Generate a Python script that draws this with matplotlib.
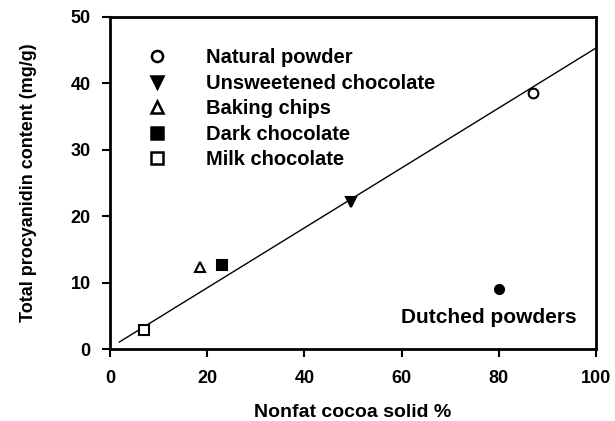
import matplotlib
matplotlib.use("Agg")
import matplotlib.pyplot as plt
from matplotlib.lines import Line2D

plt.rcParams['font.family'] = ['Liberation Sans', 'DejaVu Sans']
plt.rcParams['font.weight'] = 'bold'

# data
names = ['Natural powder', 'Unsweetened chocolate', 'Baking chips',
         'Dark chocolate', 'Milk chocolate']
cocoa = [87, 49.5, 18.5, 23, 7]
procy = [38.5, 22.2, 12.3, 12.7, 2.8]
markers = ['o', 'v', '^', 's', 's']
filled = [False, True, False, True, False]

dutched_x = [80]
dutched_y = [9]

fit_x = [1.9, 100]
fit_y = [1.05, 45.3]

fig = plt.figure(figsize=(6.15, 4.21), dpi=100)
ax = fig.add_axes([0.179, 0.171, 0.790, 0.789])

ax.plot(fit_x, fit_y, color='black', lw=1)

handles = []
for x, y, m, f, n in zip(cocoa, procy, markers, filled, names):
    fc = 'black' if f else 'white'
    ax.plot([x], [y], marker=m, ms=7, mfc=fc, mec='black', mew=1.5,
            ls='none', zorder=3)
    handles.append(Line2D([], [], marker=m, ms=8, mfc=fc, mec='black',
                          mew=1.8, ls='none', label=n))

ax.plot(dutched_x, dutched_y, marker='o', ms=7, color='black', ls='none')
ax.text(96, 4.7, 'Dutched powders', ha='right', va='center', fontsize=15,
        fontweight='bold')

leg = ax.legend(handles=handles, loc='upper left', frameon=False,
                fontsize=14.5, handletextpad=1.45, labelspacing=0.32,
                borderaxespad=0, borderpad=0, bbox_to_anchor=(0.055, 0.905))

ax.set_xlim(0, 100)
ax.set_ylim(0, 50)
ax.set_xticks([0, 20, 40, 60, 80, 100])
ax.set_yticks([0, 10, 20, 30, 40, 50])
ax.tick_params(direction='out', length=6, width=1.5, labelsize=13)
ax.tick_params(axis='x', pad=9)
ax.tick_params(axis='y', pad=8)
for s in ax.spines.values():
    s.set_linewidth(2)

ax.set_xlabel('Nonfat cocoa solid %', fontsize=14, fontweight='bold',
              labelpad=12)
ax.set_ylabel('Total procyanidin content (mg/g)', fontsize=13,
              fontweight='bold', labelpad=24)

fig.savefig('out.png', dpi=100)
